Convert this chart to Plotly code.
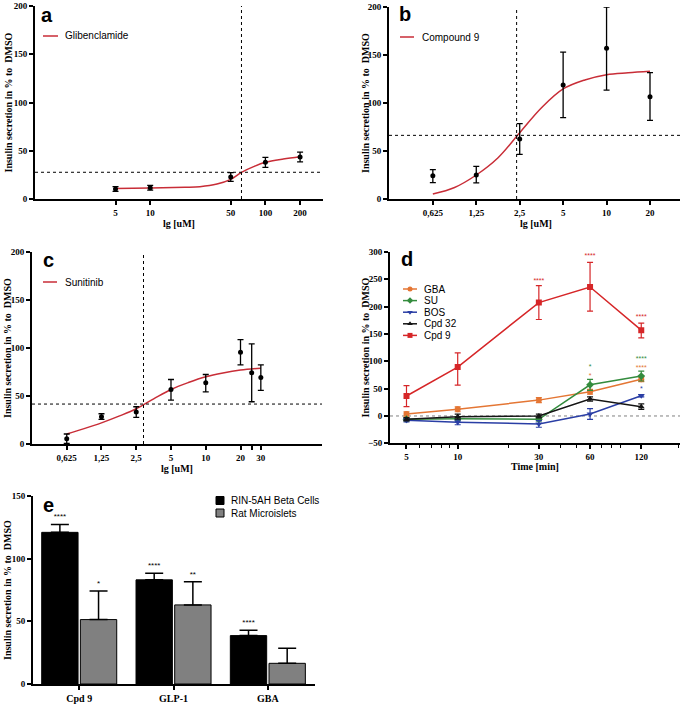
import math
import plotly.graph_objects as go

W, H = 685, 708

# ---------------- data ----------------
# panel a: Glibenclamide
a_conc = [5, 10, 50, 100, 200]
a_mean = [10.4, 11.7, 22.8, 38.0, 43.5]
a_err = [2.4, 2.4, 4.5, 5.2, 5.0]
a_fit_x = [5, 10, 20, 27, 38, 50, 62, 79, 100, 143, 200]
a_fit_y = [11.0, 11.5, 12.2, 12.8, 15.5, 20.4, 27.6, 33.5, 38.0, 41.5, 43.9]
a_ec50 = 62
a_half = 27.7
a_ticks = [5, 10, 50, 100, 200]
a_ticktext = ["5", "10", "50", "100", "200"]

# panel b: Compound 9
b_conc = [0.625, 1.25, 2.5, 5, 10, 20]
b_mean = [24.3, 25.0, 62.5, 118.7, 157.0, 106.6]
b_err_plus = [6.3, 9.0, 16.0, 34.3, 43.0, 25.0]
b_err_minus = [7.3, 8.3, 16.0, 34.0, 43.5, 24.6]
b_fit_x = [0.625, 0.884, 1.25, 1.77, 2.5, 3.54, 5, 7.07, 10, 14.1, 20]
b_fit_y = [5.2, 12.0, 25.0, 43.0, 69.0, 95.0, 114.6, 124.0, 129.5, 131.5, 133.0]
b_ec50 = 2.38
b_half = 66.3
b_ticks = [0.625, 1.25, 2.5, 5, 10, 20]
b_ticktext = ["0,625", "1,25", "2,5", "5", "10", "20"]

# panel c: Sunitinib
c_conc = [0.625, 1.25, 2.5, 5, 10, 20, 25, 30]
c_mean = [5.5, 28.4, 33.3, 56.8, 63.8, 95.7, 74.2, 69.3]
c_err_plus = [4.9, 3.1, 5.5, 10.4, 8.6, 13.1, 30.1, 13.2]
c_err_minus = [4.8, 2.8, 5.6, 11.0, 9.4, 13.2, 30.2, 13.5]
c_fit_x = [0.625, 0.884, 1.25, 1.77, 2.5, 3.54, 5, 7.07, 10, 14.1, 20, 30]
c_fit_y = [10.5, 16.0, 22.0, 29.0, 36.7, 47.0, 56.8, 64.0, 70.0, 74.0, 77.0, 79.0]
c_ec50 = 2.89
c_half = 41.6
c_ticks = [0.625, 1.25, 2.5, 5, 10, 20, 25, 30]
c_ticktext = ["0,625", "1,25", "2,5", "5", "10", "20", "", "30"]

# panel d: time course
d_time = [5, 10, 30, 60, 120]
d_series = ["GBA", "SU", "BOS", "Cpd 32", "Cpd 9"]
d_gba = [3.6, 12.2, 29.0, 44.4, 67.0]
d_gba_err = [4.0, 4.5, 4.5, 4.3, 4.0]
d_su = [-6.0, -5.0, -6.0, 57.0, 73.0]
d_su_err = [3.0, 3.0, 3.0, 10.0, 9.0]
d_bos = [-8.0, -11.6, -14.6, 3.6, 37.0]
d_bos_err = [3.0, 4.5, 6.0, 10.0, 2.0]
d_cpd32 = [-6.0, -1.2, 0.0, 31.0, 17.0]
d_cpd32_err = [3.0, 4.5, 3.5, 4.0, 5.0]
d_cpd9 = [36.5, 89.5, 207.5, 236.0, 157.0]
d_cpd9_err_plus = [19.0, 26.0, 31.0, 45.0, 13.0]
d_cpd9_err_minus = [19.5, 33.0, 31.0, 44.0, 14.0]
d_ticks = [5, 10, 30, 60, 120]
d_minor = [6, 7, 8, 9, 20, 40, 50, 70, 80, 90, 200]
# significance labels: time, y (centre), lines of (text, series)
d_sig_time = [30, 60, 120, 60, 120, 120]
d_sig_y = [246, 292, 180, 81, 96, 48]
d_sig_lines = [[("****", "Cpd 9")], [("****", "Cpd 9")], [("****", "Cpd 9")],
               [("*", "SU"), ("*", "GBA")], [("****", "SU"), ("****", "GBA")], [("*", "BOS")]]

# panel e: bars
e_cats = ["Cpd 9", "GLP-1", "GBA"]
e_rin = [121.0, 83.1, 38.6]
e_rin_err = [6.3, 5.3, 4.3]
e_rat = [51.4, 63.1, 16.5]
e_rat_err = [22.9, 18.4, 12.0]
e_rin_sig = ["****", "****", "****"]
e_rat_sig = ["*", "**", ""]

# ---------------- style ----------------
RED = "rgb(200,45,55)"
D_COL = {"GBA": "rgb(228,118,52)", "SU": "rgb(52,140,62)", "BOS": "rgb(42,62,165)",
         "Cpd 32": "rgb(20,20,20)", "Cpd 9": "rgb(214,38,40)"}
D_SYM = {"GBA": "circle", "SU": "diamond", "BOS": "triangle-down",
         "Cpd 32": "triangle-up", "Cpd 9": "square"}
SERIF = "Liberation Serif"
SANS = "Liberation Sans"


def xdom(l, r):
    return [l / W, r / W]


def ydom(t, b):
    return [1 - b / H, 1 - t / H]


def px(x):
    return x / W


def py(y):
    return 1 - y / H


tickfont = dict(family=SERIF, size=9, color="black", weight="bold")
base_ax = dict(showline=True, linecolor="black", linewidth=2, ticks="outside",
               ticklen=4, tickwidth=1.5, tickcolor="black", showgrid=False,
               zeroline=False, tickfont=tickfont, fixedrange=True, automargin=False)

fig = go.Figure()


def err(arr, minus=None, color="black", width=3, thick=1.3):
    d = dict(type="data", array=arr, color=color, thickness=thick, width=width, visible=True)
    if minus is not None:
        d["symmetric"] = False
        d["arrayminus"] = minus
    return d


def dose_panel(xa, ya, conc, mean, ep, em, fx, fy, ec50, half, xr):
    fig.add_trace(go.Scatter(x=fx, y=fy, mode="lines", line=dict(color=RED, width=1.5, shape="spline"),
                             xaxis=xa, yaxis=ya, showlegend=False, hoverinfo="skip"))
    fig.add_trace(go.Scatter(x=[ec50, ec50], y=[0, 200], mode="lines",
                             line=dict(color="black", width=1, dash="dot"),
                             xaxis=xa, yaxis=ya, showlegend=False, hoverinfo="skip"))
    fig.add_trace(go.Scatter(x=[10 ** xr[0], 10 ** xr[1]], y=[half, half], mode="lines",
                             line=dict(color="black", width=1, dash="dot"),
                             xaxis=xa, yaxis=ya, showlegend=False, hoverinfo="skip"))
    fig.add_trace(go.Scatter(x=conc, y=mean, mode="markers",
                             marker=dict(color="black", size=5, symbol="circle"),
                             error_y=err(ep, em), xaxis=xa, yaxis=ya, showlegend=False))


a_xr = [0, 2.5]
b_xr = [-0.508, 1.509]
c_xr = [-0.505, 2.007]
d_xr = [0.602, 2.307]

dose_panel("x", "y", a_conc, a_mean, a_err, None, a_fit_x, a_fit_y, a_ec50, a_half, a_xr)
dose_panel("x2", "y2", b_conc, b_mean, b_err_plus, b_err_minus, b_fit_x, b_fit_y, b_ec50, b_half, b_xr)
dose_panel("x3", "y3", c_conc, c_mean, c_err_plus, c_err_minus, c_fit_x, c_fit_y, c_ec50, c_half, c_xr)

# panel d
fig.add_trace(go.Scatter(x=[10 ** d_xr[0], 10 ** d_xr[1]], y=[0, 0], mode="lines",
                         line=dict(color="gray", width=1, dash="dot"),
                         xaxis="x4", yaxis="y4", showlegend=False, hoverinfo="skip"))
d_vals = {"GBA": (d_gba, d_gba_err, None), "SU": (d_su, d_su_err, None),
          "BOS": (d_bos, d_bos_err, None), "Cpd 32": (d_cpd32, d_cpd32_err, None),
          "Cpd 9": (d_cpd9, d_cpd9_err_plus, d_cpd9_err_minus)}
for name in d_series:
    v, ep, em = d_vals[name]
    fig.add_trace(go.Scatter(x=d_time, y=v, mode="lines+markers", name=name,
                             line=dict(color=D_COL[name], width=1.5),
                             marker=dict(color=D_COL[name], size=6, symbol=D_SYM[name]),
                             error_y=err(ep, em, color=D_COL[name], width=3, thick=1.2),
                             xaxis="x4", yaxis="y4", showlegend=False))
for t, yv, lines in zip(d_sig_time, d_sig_y, d_sig_lines):
    txt = "<br>".join("<span style='color:%s'>%s</span>" % (D_COL[s], st) for st, s in lines)
    fig.add_trace(go.Scatter(x=[t], y=[yv], mode="text", text=[txt], textposition="middle center",
                             textfont=dict(family=SANS, size=7, color=D_COL[lines[0][1]]),
                             xaxis="x4", yaxis="y4", showlegend=False, hoverinfo="skip"))

# panel e
fig.add_trace(go.Bar(x=e_cats, y=e_rin, name="RIN-5AH Beta Cells", offsetgroup="1",
                     marker=dict(color="black", line=dict(color="black", width=1)),
                     error_y=dict(type="data", array=e_rin_err, arrayminus=[0] * 3, symmetric=False,
                                  color="black", thickness=1.5, width=9),
                     xaxis="x5", yaxis="y5", showlegend=False))
fig.add_trace(go.Bar(x=e_cats, y=e_rat, name="Rat Microislets", offsetgroup="2",
                     marker=dict(color="rgb(128,128,128)", line=dict(color="black", width=1)),
                     error_y=dict(type="data", array=e_rat_err, arrayminus=[0] * 3, symmetric=False,
                                  color="black", thickness=1.5, width=9),
                     xaxis="x5", yaxis="y5", showlegend=False))
# invisible bars reaching error-bar tops carry the significance labels
for vals, errs, sig, grp in [(e_rin, e_rin_err, e_rin_sig, "1"), (e_rat, e_rat_err, e_rat_sig, "2")]:
    fig.add_trace(go.Bar(x=e_cats, y=[m + e for m, e in zip(vals, errs)], offsetgroup=grp,
                         marker=dict(color="rgba(0,0,0,0)", line=dict(width=0)),
                         text=sig, textposition="outside", cliponaxis=False,
                         textfont=dict(family=SANS, size=8, color="black"),
                         xaxis="x5", yaxis="y5", showlegend=False, hoverinfo="skip"))

# ---------------- legends (overlay pixel axis) ----------------
def leg_line(x0, x1, y, color, sym=None):
    fig.add_trace(go.Scatter(x=[x0, x1], y=[y, y], mode="lines", line=dict(color=color, width=1.5),
                             xaxis="x6", yaxis="y6", showlegend=False, hoverinfo="skip"))
    if sym:
        fig.add_trace(go.Scatter(x=[(x0 + x1) / 2], y=[y], mode="markers",
                                 marker=dict(color=color, size=5, symbol=sym),
                                 xaxis="x6", yaxis="y6", showlegend=False, hoverinfo="skip"))


ann = []


def text(x, y, s, size=10, family=SANS, color="black", weight="normal", xanchor="left", angle=0):
    ann.append(dict(x=px(x), y=py(y), xref="paper", yref="paper", text=s, showarrow=False,
                    xanchor=xanchor, yanchor="middle", textangle=angle,
                    font=dict(family=family, size=size, color=color, weight=weight)))


leg_line(43, 58, 36, RED)
text(63, 36, "Glibenclamide")
leg_line(400, 414, 37, RED)
text(420, 37, "Compound 9")
leg_line(43, 57, 282, RED)
text(63, 282, "Sunitinib")
for i, name in enumerate(d_series):
    yy = 289 + i * 11.6
    leg_line(403, 417, yy, D_COL[name], D_SYM[name])
    text(422, yy, name)
fig.add_trace(go.Scatter(x=[220, 220], y=[500.5, 513], mode="markers",
                         marker=dict(color=["black", "rgb(128,128,128)"], size=8, symbol="square",
                                     line=dict(color="black", width=1)),
                         xaxis="x6", yaxis="y6", showlegend=False, hoverinfo="skip"))
text(229, 500.5, "RIN-5AH Beta Cells")
text(229, 513, "Rat Microislets")

# panel letters
for (lx, ly, s) in [(47, 15, "a"), (405, 14, "b"), (48, 260, "c"), (407, 259, "d"), (48, 505, "e")]:
    text(lx, ly, s, size=20, family=SANS, weight="bold", xanchor="center")

# axis titles
YT = "Insulin secretion in % to  DMSO"
for (x, y) in [(8, 102.5), (365, 103), (7, 348), (365, 347.5), (7, 590)]:
    text(x, y, YT, size=10, family=SERIF, weight="bold", xanchor="center", angle=-90)
text(179, 224, "lg [uM]", size=10, family=SERIF, weight="bold", xanchor="center")
text(536, 224, "lg [uM]", size=10, family=SERIF, weight="bold", xanchor="center")
text(177, 468, "lg [uM]", size=10, family=SERIF, weight="bold", xanchor="center")
text(535, 467, "Time [min]", size=10, family=SERIF, weight="bold", xanchor="center")

# ---------------- layout ----------------
ytick200 = dict(range=[0, 200], tickvals=[0, 50, 100, 150, 200])
lay = dict(
    template="none",
    width=W, height=H, margin=dict(l=0, r=0, t=0, b=0, autoexpand=False),
    paper_bgcolor="white", plot_bgcolor="rgba(0,0,0,0)",
    showlegend=False, barmode="group", bargap=0.18, bargroupgap=0.06,
    annotations=ann,
    xaxis=dict(base_ax, type="log", range=a_xr, tickvals=a_ticks, ticktext=a_ticktext,
               domain=xdom(35, 323), anchor="y"),
    yaxis=dict(base_ax, domain=ydom(6, 199), anchor="x", **ytick200),
    xaxis2=dict(base_ax, type="log", range=b_xr, tickvals=b_ticks, ticktext=b_ticktext,
                domain=xdom(389, 680), anchor="y2"),
    yaxis2=dict(base_ax, domain=ydom(7, 199), anchor="x2", **ytick200),
    xaxis3=dict(base_ax, type="log", range=c_xr, tickvals=c_ticks, ticktext=c_ticktext,
                domain=xdom(32, 322), anchor="y3"),
    yaxis3=dict(base_ax, domain=ydom(252, 444), anchor="x3", **ytick200),
    xaxis4=dict(base_ax, type="log", range=d_xr, tickvals=d_ticks, ticktext=[str(t) for t in d_ticks],
                domain=xdom(390, 680), anchor="y4",
                minor=dict(tickvals=d_minor, ticks="outside", ticklen=3, tickwidth=1, tickcolor="black")),
    yaxis4=dict(base_ax, domain=ydom(252, 443.3), anchor="x4", range=[-50, 300],
                tickvals=[-50, 0, 50, 100, 150, 200, 250, 300]),
    xaxis5=dict(base_ax, type="category", range=[-0.49, 2.5], domain=xdom(33, 315), anchor="y5",
                tickfont=dict(family=SERIF, size=10, color="black", weight="bold")),
    yaxis5=dict(base_ax, domain=ydom(496, 684), anchor="x5", range=[0, 150],
                tickvals=[0, 50, 100, 150]),
    xaxis6=dict(domain=[0, 1], range=[0, W], visible=False, fixedrange=True, anchor="y6"),
    yaxis6=dict(domain=[0, 1], range=[H, 0], visible=False, fixedrange=True, anchor="x6"),
)
fig.update_layout(**lay)
# remove the browser's default 8px page margin so the figure fills the window exactly
fig.write_html("out.html", include_plotlyjs=True, config={"displayModeBar": False},
               post_script="document.body.style.margin='0';document.body.style.overflow='hidden';")
